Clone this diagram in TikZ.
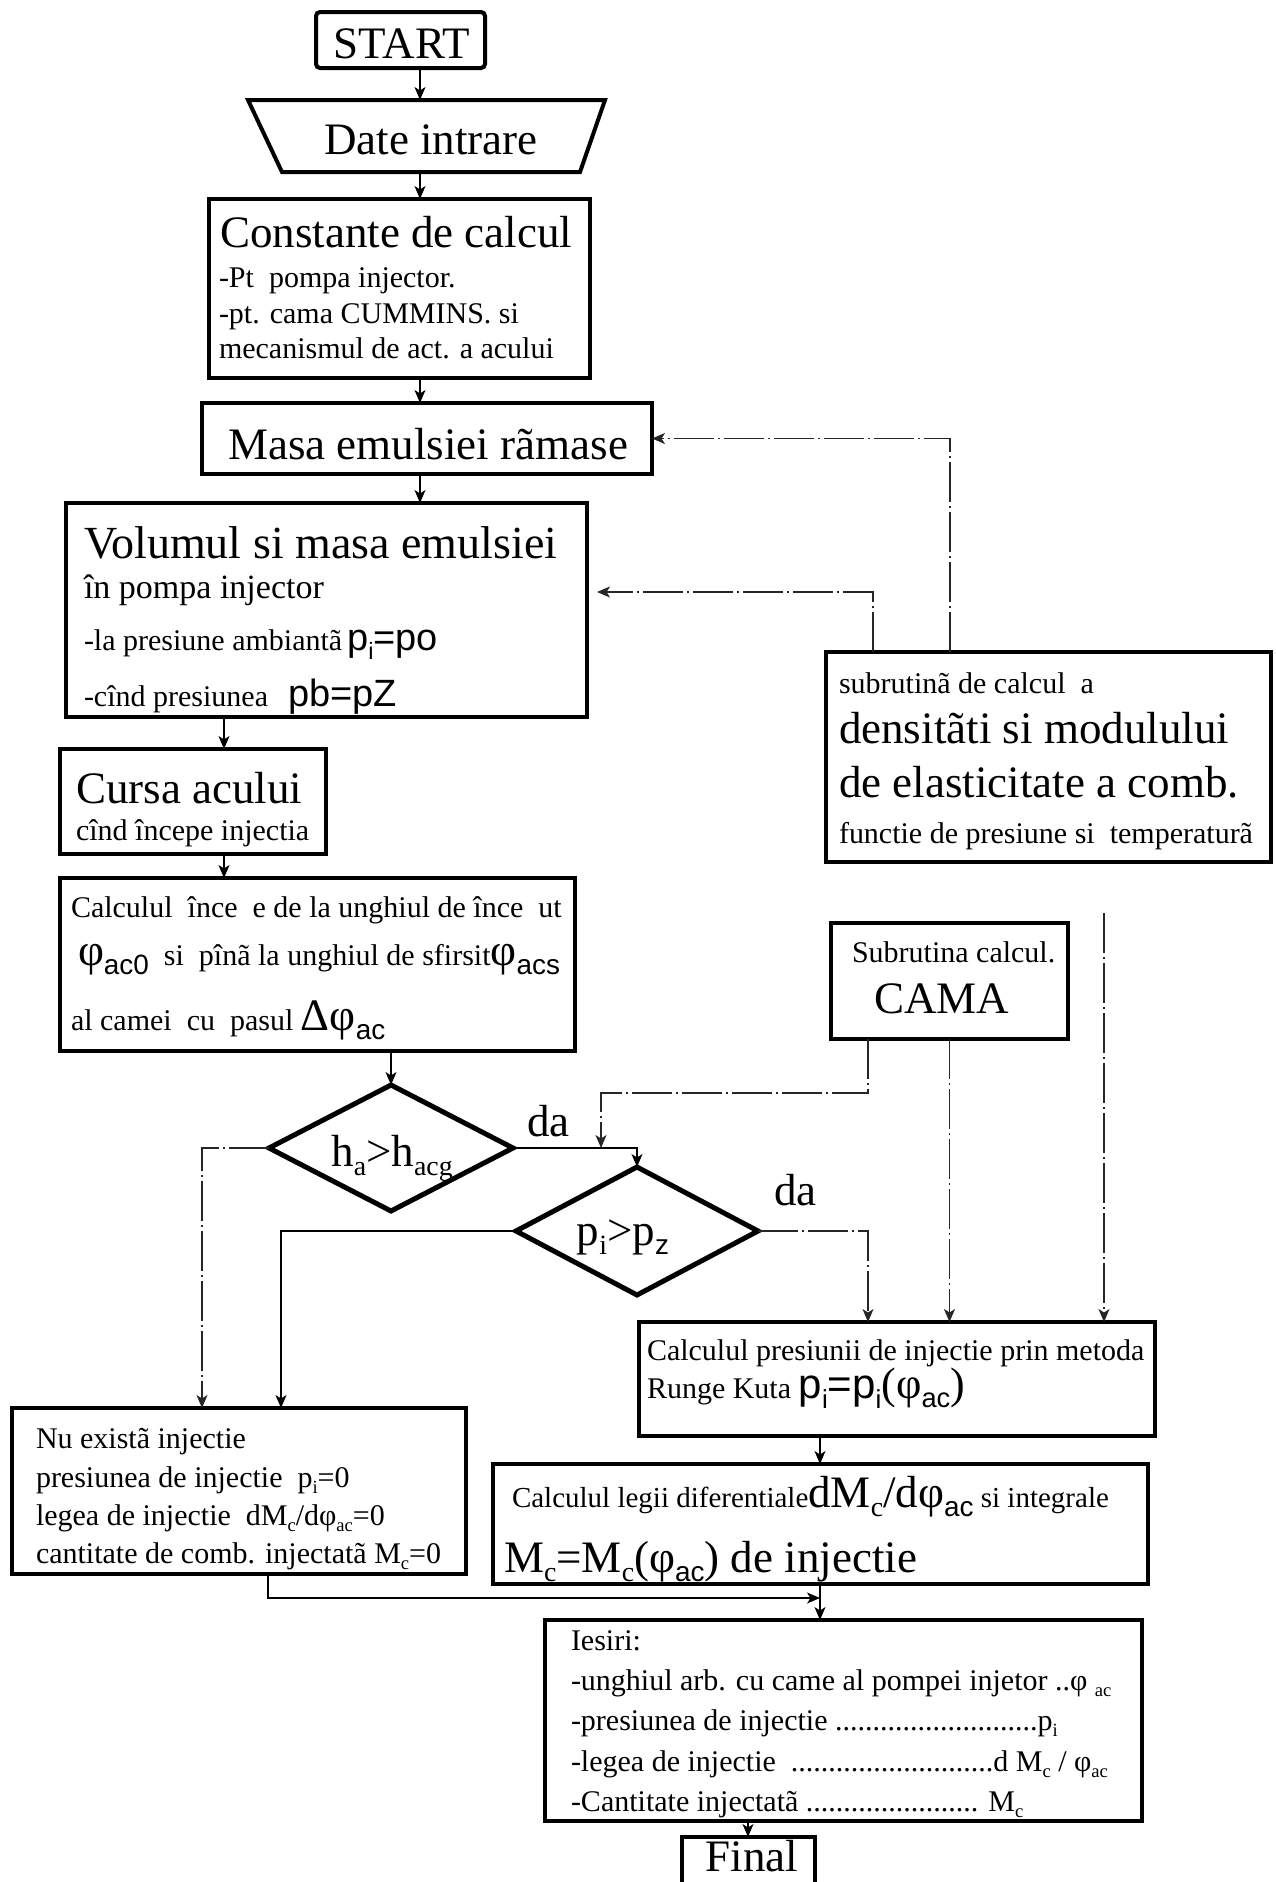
\documentclass[tikz,border=0pt]{standalone}
\usepackage{fontspec}
\setmainfont{Liberation Serif}
\newfontfamily\sansf{Liberation Sans}
\usetikzlibrary{arrows.meta,fit,calc,shapes.geometric}
\newcommand\fbig{\fontsize{45}{54}\selectfont}
\newcommand\fsm{\fontsize{30}{36}\selectfont}
\newcommand\fs[1]{\fontsize{#1}{#1}\selectfont}
\newcommand\dn[1]{\raisebox{-0.45ex}{\scalebox{0.62}{#1}}}
\begin{document}
\begin{tikzpicture}[x=1pt,y=-1pt,
  box/.style={draw, line width=4pt, inner sep=0pt, outer sep=0pt},
  hid/.style={inner sep=0pt, outer sep=0pt},
  dia/.style={draw, diamond, line width=5pt, inner sep=0pt, outer sep=0pt},
  txt/.style={anchor=base west, inner sep=0pt, outer sep=0pt},
  ctxt/.style={anchor=base, inner sep=0pt, outer sep=0pt},
  con/.style={line width=1.3pt},
  arr/.style={-{Stealth[length=13pt,width=11pt,inset=3.5pt]}},
  fb/.style={con, black!85, dash pattern=on 40pt off 4pt on 2pt off 4pt}
]
\path[use as bounding box] (0,0) rectangle (1276,1882);
\clip (0,0) rectangle (1276,1882);
\fill[white] (0,0) rectangle (1276,1882);

% boxes
\node[box, rounded corners=4pt, fit={(316,12) (485,68)}] (start) {};
\node[hid, fit={(248,100) (605,172)}] (date) {};
\draw[line width=4pt] (date.north west) -- (date.north east) -- ([xshift=-25pt]date.south east) -- ([xshift=34pt]date.south west) -- cycle;
\node[box, fit={(209,199) (590,378)}] (const) {};
\node[box, fit={(202,403) (652,474)}] (masa) {};
\node[box, fit={(66,503) (587,717)}] (vol) {};
\node[box, fit={(60,749) (326,854)}] (cursa) {};
\node[box, fit={(60,878) (575,1051)}] (calc) {};
\node[box, fit={(826,652) (1271,862)}] (sub) {};
\node[box, fit={(831,923) (1068,1039)}] (cama) {};
\node[dia, minimum width=244pt, minimum height=126pt] (d1) at (391,1148) {};
\node[dia, minimum width=242pt, minimum height=128pt] (d2) at (637,1231) {};
\node[box, fit={(639,1322) (1155,1436)}] (pres) {};
\node[box, fit={(12,1408) (466,1574)}] (nu) {};
\node[box, fit={(493,1464) (1148,1584)}] (legii) {};
\node[box, fit={(545,1620) (1142,1821)}] (ies) {};
\node[box, fit={(682,1837) (815,1910)}] (final) {};

% helper coordinates
\coordinate (colA) at (420,0);
\coordinate (colB) at (224,0);
\coordinate (colC) at (202,0);
\coordinate (colD) at (281,0);
\coordinate (colE) at (868,0);
\coordinate (colF) at (601,0);
\coordinate (colH) at (1104,0);
\coordinate (colI) at (950,0);
\coordinate (colJ) at (873,0);
\coordinate (colK) at (268,0);
\coordinate (colL) at (820,0);
\coordinate (colM) at (748,0);
\coordinate (camaY) at (0,1093);
\coordinate (joinY) at (0,1598);
\coordinate (volin) at (597,592);

% connectors
\draw[con,arr] (start.south -| colA) -- (date.north -| colA);
\draw[con,arr] (date.south -| colA) -- (const.north -| colA);
\draw[con,arr] (const.south -| colA) -- (masa.north -| colA);
\draw[con,arr] (masa.south -| colA) -- (vol.north -| colA);
\draw[con,arr] (vol.south -| colB) -- (cursa.north -| colB);
\draw[con,arr] (cursa.south -| colB) -- (calc.north -| colB);
\draw[con,arr] (calc.south -| d1.north) -- (d1.north);
\draw[con,arr] (d1.east) -| (d2.north);
\draw[fb,arr] (d1.west) -| (nu.north -| colC);
\draw[con,arr] (d2.west) -| (nu.north -| colD);
\draw[fb,arr] (d2.east) -| (pres.north -| colE);
\draw[fb,arr] (cama.south -| colE) -- (colE |- camaY) -- (colF |- camaY) -- (colF |- d1.east);
\draw[fb,arr] (cama.south) -- (pres.north -| cama.south);
\draw[fb,arr] ($(sub.south -| colH)+(0,51)$) -- (pres.north -| colH);
\draw[fb,arr] (sub.north -| colI) |- (masa.east);
\draw[fb,arr] (sub.north -| colJ) |- (volin);
\draw[con,arr] (nu.south -| colK) |- (colL |- joinY);
\draw[con,arr] (pres.south -| colL) -- (legii.north -| colL);
\draw[con,arr] (legii.south -| colL) -- (ies.north -| colL);
\draw[con,arr] (ies.south -| colM) -- (final.north -| colM);

% texts
\node[ctxt] (t-start) at (402,58) {\fbig START};
\node[ctxt] (t-date) at (431,154) {\fbig Date intrare};
\node[txt] (t-const) at (220,247) {\fbig Constante de calcul};
\node[txt] (t-const1) at (219,287) {\fsm -Pt\ \ pompa injector.};
\node[txt] (t-const2) at (219,323) {\fsm -pt. cama CUMMINS. si};
\node[txt] (t-const3) at (219,358) {\fsm mecanismul de act. a acului};
\node[ctxt] (t-masa) at (428,459) {\fbig Masa emulsiei rãmase};
\node[txt] (t-vol) at (84,558) {\fs{46}Volumul si masa emulsiei};
\node[txt] (t-vol1) at (84,598) {\fs{34}în pompa injector};
\node[txt] (t-vol2) at (84,650) {\fsm -la presiune ambiantã\hspace{5pt}{\sansf\fs{38}p\dn{i}=po}};
\node[txt] (t-vol3) at (84,706) {\fsm -cînd presiunea\hspace{20pt}{\sansf\fs{38}pb=pZ}};
\node[txt] (t-cursa) at (76,803) {\fbig Cursa acului};
\node[txt] (t-cursa1) at (76,840) {\fsm cînd începe injectia};
\node[txt] (t-calc1) at (71,917) {\fsm Calculul\ \ înce\ \ e de la unghiul de înce\ \ ut};
\node[txt] (t-calc2) at (78,965) {{\fbig φ\dn{\sansf ac0}}{\fsm\ \ si\ \ pînã la unghiul de sfirsit}{\fbig φ\dn{\sansf acs}}};
\node[txt] (t-calc3) at (71,1030) {\fsm al camei\ \ cu\ \ pasul\ {\fbig Δφ\dn{\sansf ac}}};
\node[ctxt] (t-d1) at (392,1166) {\fbig h\dn{a}>h\dn{acg}};
\node[ctxt] (t-d2) at (623,1245) {\fbig p\dn{i}>p\dn{\sansf z}};
\node[txt] (t-da1) at (527,1136) {\fbig da};
\node[txt] (t-da2) at (774,1205) {\fbig da};
\node[txt] (t-sub1) at (839,693) {\fsm subrutinã de calcul\ \ a};
\node[txt] (t-sub2) at (839,743) {\fbig densitãti si modulului};
\node[txt] (t-sub3) at (839,797) {\fbig de elasticitate a comb.};
\node[txt] (t-sub4) at (839,843) {\fsm functie de presiune si\ \ temperaturã};
\node[txt] (t-cama1) at (852,962) {\fsm Subrutina calcul.};
\node[txt] (t-cama2) at (874,1013) {\fbig CAMA};
\node[txt] (t-pres1) at (647,1360) {\fsm Calculul presiunii de injectie prin metoda};
\node[txt] (t-pres2) at (647,1398) {\fsm Runge Kuta {\sansf\fs{42}p\dn{i}=p\dn{i}}{\fs{44}(φ\dn{\sansf ac})}};
\node[txt] (t-nu1) at (36,1448) {\fsm Nu existã injectie};
\node[txt] (t-nu2) at (36,1487) {\fsm presiunea de injectie\ \ p\dn{i}=0};
\node[txt] (t-nu3) at (36,1525) {\fsm legea de injectie\ \ dM\dn{c}/dφ\dn{ac}=0};
\node[txt] (t-nu4) at (36,1563) {\fsm cantitate de comb. injectatã M\dn{c}=0};
\node[txt] (t-leg1) at (512,1507) {\fs{29}Calculul legii diferentiale{\fbig dM\dn{c}/dφ\dn{\sansf ac}} si integrale};
\node[txt] (t-leg2) at (504,1572) {\fbig M\dn{c}=M\dn{c}(φ\dn{\sansf ac}) de injectie};
\node[txt] (t-ies1) at (571,1650) {\fsm Iesiri:};
\node[txt] (t-ies2) at (571,1690) {\fsm -unghiul arb. cu came al pompei injetor ..φ \dn{ac}};
\node[txt] (t-ies3) at (571,1730) {\fsm -presiunea de injectie ...........................p\dn{i}};
\node[txt] (t-ies4) at (571,1771) {\fsm -legea de injectie\ \ ...........................d M\dn{c} / φ\dn{ac}};
\node[txt] (t-ies5) at (571,1811) {\fsm -Cantitate injectatã ....................... M\dn{c}};
\node[ctxt] (t-final) at (752,1871) {\fbig Final};
\end{tikzpicture}
\end{document}
